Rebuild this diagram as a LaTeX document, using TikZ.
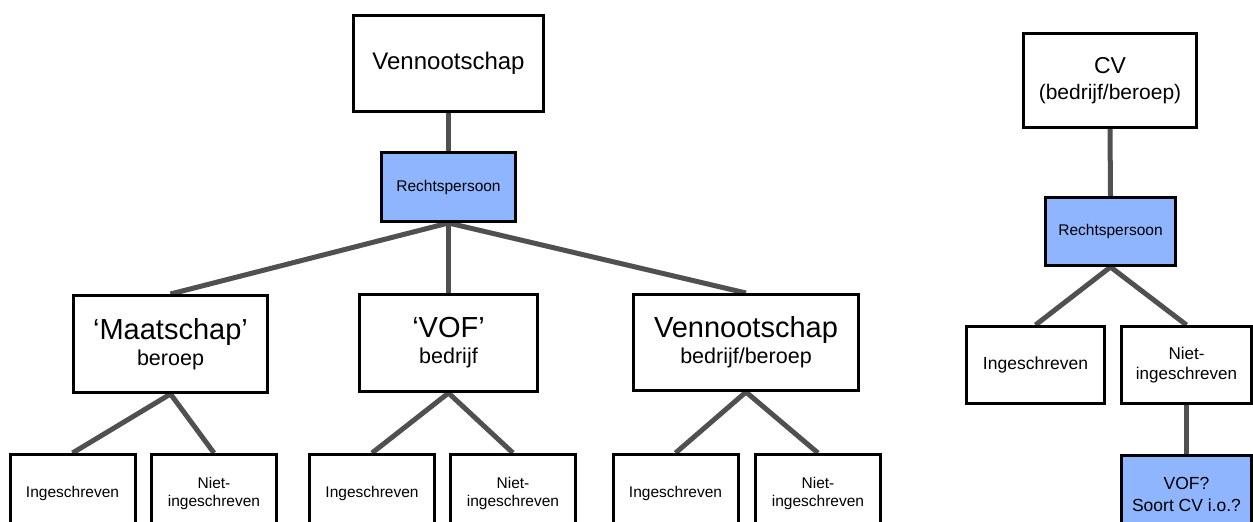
\documentclass[tikz,border=0pt]{standalone}
\usepackage{fontspec}
\setmainfont{Liberation Sans}
\usetikzlibrary{positioning,backgrounds}

\definecolor{legalblue}{RGB}{143,181,255}
\definecolor{linkgray}{RGB}{80,80,80}

\begin{document}
\begin{tikzpicture}
  [x=1pt,y=-1pt,
   box/.style={rectangle,draw=black,line width=3pt,fill=white,inner sep=0pt,align=center},
   blue box/.style={box,fill=legalblue},
   leaf/.style={box,minimum width=125pt,minimum height=77pt,font=\fontsize{15.5}{18}\selectfont},
   link/.style={draw=linkgray,line width=5pt},
   title text/.style={font=\fontsize{24}{28}\selectfont},
   name text/.style={font=\fontsize{29}{26}\selectfont},
   label text/.style={font=\fontsize{15.5}{18}\selectfont}]

  \path [use as bounding box,clip] (0,0) rectangle (1253,522);

  % Left tree
  \node [box,title text,minimum width=190pt,minimum height=96pt] (venn) at (448.5,63.5) {Vennootschap};
  \node [blue box,label text,minimum width=134pt,minimum height=69pt] (rp) at (448.5,187) {Rechtspersoon};

  \node [box,name text,minimum width=194pt,minimum height=97pt] (maat) at (170.5,344)
        {‘Maatschap’\\\fontsize{21.5}{27}\selectfont beroep};
  \node [box,name text,minimum width=178pt,minimum height=97pt] (vof)  at (448.5,343)
        {‘VOF’\\\fontsize{21.5}{27}\selectfont bedrijf};
  \node [box,name text,minimum width=225pt,minimum height=96pt] (vs)   at (746,342.5)
        {Vennootschap\\\fontsize{21.5}{27}\selectfont bedrijf/beroep};

  \node [leaf] (maat-in)   at (72.5,493)  {Ingeschreven};
  \node [leaf] (maat-niet) at (214,493)   {Niet-\\ingeschreven};
  \node [leaf] (vof-in)    at (372,493)   {Ingeschreven};
  \node [leaf] (vof-niet)  at (513,493)   {Niet-\\ingeschreven};
  \node [leaf] (vs-in)     at (675.5,493) {Ingeschreven};
  \node [leaf] (vs-niet)   at (818,493)   {Niet-\\ingeschreven};

  % Right tree
  \node [box,font=\fontsize{23}{26}\selectfont,minimum width=173pt,minimum height=94pt] (cv) at (1110,80.5)
        {CV\\\fontsize{21}{26}\selectfont(bedrijf/beroep)};
  \node [blue box,label text,minimum width=130pt,minimum height=68pt] (rp2) at (1110.5,231.5) {Rechtspersoon};
  \node [box,font=\fontsize{17.5}{20}\selectfont,minimum width=138pt,minimum height=77pt] (cv-in) at (1035.5,365) {Ingeschreven};
  \node [box,font=\fontsize{17}{20}\selectfont,minimum width=130pt,minimum height=77pt] (cv-niet) at (1186.5,365) {Niet-\\ingeschreven};
  \node [blue box,font=\fontsize{17.5}{22}\selectfont,minimum width=130pt,minimum height=77pt] (cv-vof) at (1186.5,494) {VOF?\\Soort CV i.o.?};

  \begin{scope}[on background layer]
    \path (venn.south) edge [link] (rp.north);
    \path (rp.south) edge [link] (maat.north)
                     edge [link] (vof.north)
                     edge [link] (vs.north);
    \path (maat.south) edge [link] (maat-in.north) edge [link] (maat-niet.north);
    \path (vof.south)  edge [link] (vof-in.north)  edge [link] (vof-niet.north);
    \path (vs.south)   edge [link] (vs-in.north)   edge [link] (vs-niet.north);

    \path (cv.south)  edge [link] (rp2.north);
    \path (rp2.south) edge [link] (cv-in.north) edge [link] (cv-niet.north);
    \path (cv-niet.south) edge [link] (cv-vof.north);
  \end{scope}

\end{tikzpicture}
\end{document}
